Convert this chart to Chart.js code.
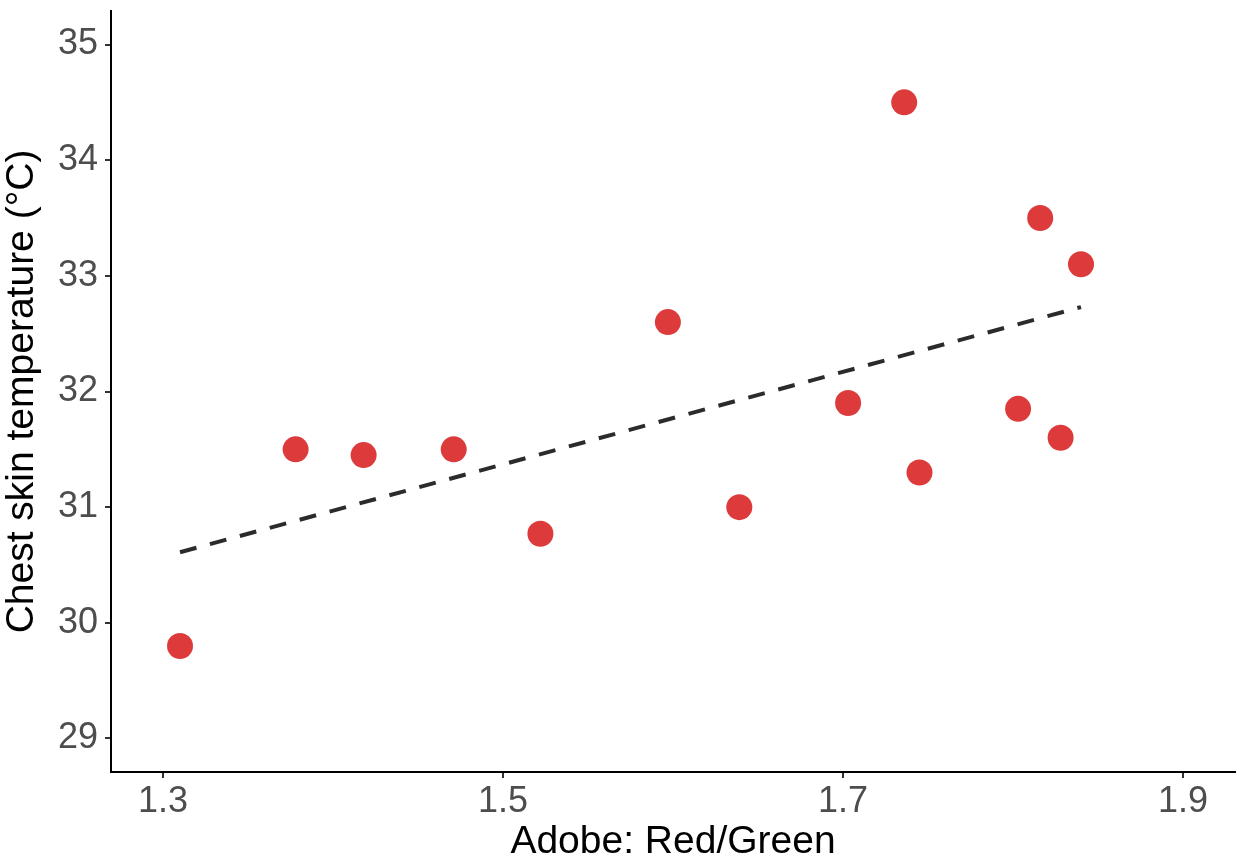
<!DOCTYPE html>
<html>
<head>
<meta charset="utf-8">
<script src="https://cdn.jsdelivr.net/npm/chart.js@4"></script>
<style>
  body { margin: 0; background: #fff; }
  #wrap { width: 1239px; height: 858px; }
  canvas { display: block; }
</style>
</head>
<body>
<div id="wrap"><canvas id="chart" width="1239" height="858"></canvas></div>
<script>
// values
var redGreen = [1.310, 1.378, 1.418, 1.471, 1.522, 1.597, 1.639, 1.703, 1.736, 1.745, 1.803, 1.816, 1.828, 1.840];
var chestTemp = [29.80, 31.50, 31.45, 31.50, 30.77, 32.60, 31.00, 31.90, 34.50, 31.30, 31.85, 33.50, 31.60, 33.10];

// dashed fit line, ends as seen in the picture
var fitX = [1.310, 1.840];
var fitY = [30.61, 32.73];

var xTicks = [1.3, 1.5, 1.7, 1.9];
var yTicks = [29, 30, 31, 32, 33, 34, 35];

var points = redGreen.map(function (x, i) { return { x: x, y: chestTemp[i] }; });
var fitLine = fitX.map(function (x, i) { return { x: x, y: fitY[i] }; });

var tickFont = { family: 'Liberation Sans, Arial, sans-serif', size: 36 };
var titleFont = { family: 'Liberation Sans, Arial, sans-serif', size: 39, lineHeight: 1.0 };

new Chart(document.getElementById('chart'), {
  type: 'scatter',
  data: {
    datasets: [{
      label: 'fit',
      type: 'line',
      data: fitLine,
      borderColor: '#2b2b2b',
      borderWidth: 4,
      borderDash: [17, 14],
      pointRadius: 0,
      fill: false,
      order: 2
    }, {
      label: 'points',
      data: points,
      backgroundColor: '#dd3b3b',
      borderColor: '#dd3b3b',
      borderWidth: 0,
      pointRadius: 13,
      order: 1
    }]
  },
  options: {
    responsive: false,
    animation: false,
    layout: { autoPadding: false, padding: { top: 11, right: 4, left: 0, bottom: 0 } },
    plugins: { legend: { display: false }, tooltip: { enabled: false } },
    scales: {
      x: {
        type: 'linear',
        min: 1.2694,
        max: 1.9306,
        afterBuildTicks: function (axis) {
          axis.ticks = xTicks.map(function (v) { return { value: v }; });
        },
        afterFit: function (axis) {
          axis.height = 86;
          axis.paddingLeft = 0;
          axis.paddingRight = 0;
        },
        grid: { drawOnChartArea: false, drawTicks: true, tickLength: 6, color: '#333', lineWidth: 2 },
        border: { display: true, color: '#000', width: 2 },
        ticks: { color: '#4d4d4d', font: tickFont, padding: 2, maxRotation: 0,
          callback: function (v) { return v.toFixed(1); } },
        title: { display: true, text: 'Adobe: Red/Green', color: '#000', font: titleFont, padding: { top: 0, bottom: -4 } }
      },
      y: {
        type: 'linear',
        min: 28.71,
        max: 35.29,
        afterBuildTicks: function (axis) {
          axis.ticks = yTicks.map(function (v) { return { value: v }; });
        },
        afterFit: function (axis) {
          axis.width = 111;
          axis.paddingTop = 0;
          axis.paddingBottom = 0;
        },
        grid: { drawOnChartArea: false, drawTicks: true, tickLength: 6, color: '#333', lineWidth: 2 },
        border: { display: true, color: '#000', width: 2 },
        ticks: { color: '#4d4d4d', font: tickFont, padding: 7,
          callback: function (v) { return String(v); } },
        title: { display: true, text: 'Chest skin temperature (°C)', color: '#000', font: titleFont, padding: { top: 3, bottom: 0 } }
      }
    }
  }
});
</script>
</body>
</html>
